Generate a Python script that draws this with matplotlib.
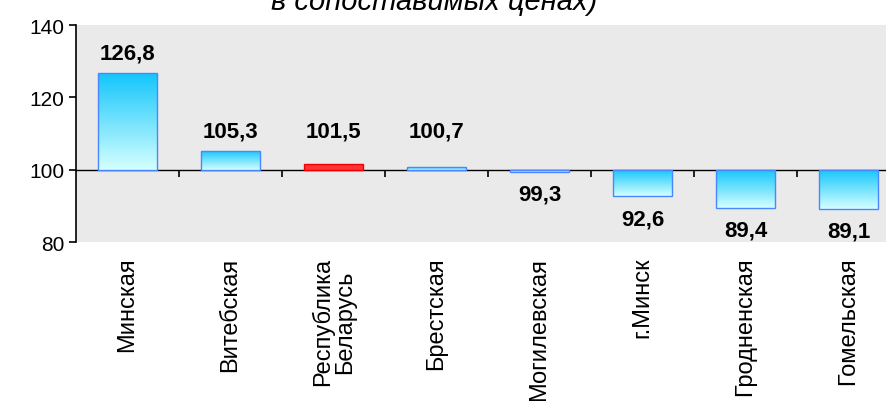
import numpy as np
import matplotlib
matplotlib.use('Agg')
import matplotlib.pyplot as plt
from matplotlib.colors import LinearSegmentedColormap
from matplotlib.transforms import blended_transform_factory

plt.rcParams['font.family'] = ['Liberation Sans', 'DejaVu Sans']

regions = ['Минская', 'Витебская', 'Республика\nБеларусь', 'Брестская',
           'Могилевская', 'г.Минск', 'Гродненская', 'Гомельская']
values = [126.8, 105.3, 101.5, 100.7, 99.3, 92.6, 89.4, 89.1]
value_labels = ['126,8', '105,3', '101,5', '100,7', '99,3', '92,6', '89,4', '89,1']
highlight = 'Республика\nБеларусь'
base = 100

fig = plt.figure(figsize=(8.86, 4.02), dpi=100)
ax = fig.add_axes([0.0858, 0.3955, 0.930, 0.5397])
ax.set_facecolor('#eaeaea')

grad = LinearSegmentedColormap.from_list('g', ['#d4ffff', '#14c6fc'])
x = np.arange(len(regions))
width = 0.58
for xi, name, v in zip(x, regions, values):
    lo, hi = min(v, base), max(v, base)
    if name == highlight:
        ax.bar(xi, v - base, bottom=base, width=width, color='#ff3333',
               edgecolor='#ee0000', linewidth=1, zorder=3)
        continue
    bar = ax.bar(xi, v - base, bottom=base, width=width, color='none',
                 edgecolor='#4a86ff', linewidth=1, zorder=4)[0]
    img = ax.imshow(np.linspace(0, 1, 100).reshape(-1, 1), cmap=grad,
                    extent=[xi - width / 2, xi + width / 2, lo, hi],
                    origin='lower', aspect='auto', zorder=3)
    img.set_clip_path(bar)

for xi, v, lab in zip(x, values, value_labels):
    if v >= base:
        ax.annotate(lab, (xi, max(v, 105.3)), xytext=(0, 14), textcoords='offset points',
                    ha='center', va='center', fontsize=16, fontweight='bold')
    else:
        ax.annotate(lab, (xi, v), xytext=(0, -16), textcoords='offset points',
                    ha='center', va='center', fontsize=16, fontweight='bold')

ax.set_xlim(-0.5, len(regions) - 0.5)
ax.set_ylim(80, 140)
ax.set_yticks([80, 100, 120, 140])
ax.tick_params(axis='y', labelsize=15, direction='out', length=5, width=1.2)

ax.spines['bottom'].set_position(('data', base))
ax.spines['top'].set_visible(False)
ax.spines['right'].set_visible(False)
ax.spines['left'].set_linewidth(1.2)
ax.spines['bottom'].set_linewidth(1)
ax.set_xticks(np.arange(len(regions)) + 0.5)
ax.set_xticklabels([])
ax.tick_params(axis='x', direction='out', length=5, width=1.2)

trans = blended_transform_factory(ax.transData, ax.transAxes)
for xi, name in zip(x, regions):
    ax.text(xi, -0.068, name, transform=trans, rotation=90, ha='center',
            va='top', fontsize=17, multialignment='center', linespacing=1.0)

fig.text(0.49, 1 - 10 / 402, 'в сопоставимых ценах)', ha='center', va='baseline',
         fontsize=21, style='italic')

fig.savefig('out.png', dpi=100)
